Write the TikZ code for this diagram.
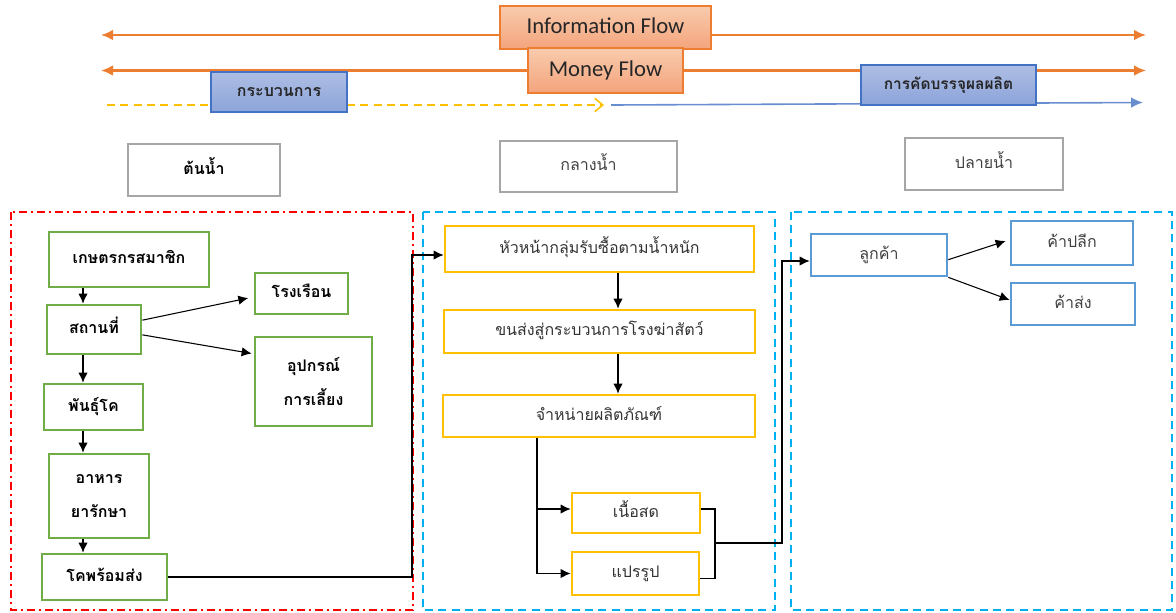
\documentclass[tikz,border=0pt]{standalone}
\usepackage{fontspec}
\setmainfont{Carlito}
\newfontfamily\thai[Script=Thai]{Loma}
\usetikzlibrary{arrows.meta,backgrounds}

\definecolor{flowor}{HTML}{ED7D31}
\definecolor{flowtop}{HTML}{F8CBAD}
\definecolor{flowbot}{HTML}{F4A47C}
\definecolor{procblue}{HTML}{4472C4}
\definecolor{proctop}{HTML}{AEBDE4}
\definecolor{procbot}{HTML}{8CA4DA}
\definecolor{farmgreen}{HTML}{70AD47}
\definecolor{midyellow}{HTML}{FFC000}
\definecolor{endblue}{HTML}{5B9BD5}
\definecolor{zonecyan}{HTML}{00B0F0}
\definecolor{stagegray}{HTML}{A6A6A6}
\definecolor{flowyellow}{HTML}{FFC000}

\tikzset{
  % box from its left, top, right and bottom edge (in px)
  span/.style args={#1,#2,#3,#4}{at={({(#1+#3)/2},{(#2+#4)/2})},
    minimum width={(#3-#1)*0.75pt}, minimum height={(#4-#2)*0.75pt}},
  box/.style={draw, inner sep=0pt, text height=8pt, text depth=2pt,
    font=\thai\fontsize{12}{25}\selectfont},
  twoline/.style={align=center, text height=, text depth=},
  flowbox/.style={box, draw=flowor, top color=flowtop, bottom color=flowbot,
    line width=1pt, font=\fontsize{17}{19}\selectfont, text=black!85,
    text height=12pt, text depth=3pt},
  procbox/.style={box, draw=procblue, top color=proctop, bottom color=procbot,
    line width=1pt, font=\thai\bfseries\fontsize{12}{14}\selectfont, text=black!85},
  stagebox/.style={box, draw=stagegray, line width=2pt},
  farmbox/.style={box, draw=farmgreen, line width=2pt,
    font=\thai\bfseries\fontsize{12}{25}\selectfont},
  midbox/.style={box, draw=midyellow, line width=2pt, text=black!80},
  sellbox/.style={box, draw=endblue, line width=2pt, text=black!75},
  arr/.style={-{Latex[length=7.5pt,width=7pt]}, line width=0.8pt},
  link/.style={line width=0.8pt},
  flowline/.style={flowor, line width=1.6pt, -{Latex[length=9pt,width=8pt]}},
  zone/.style={line width=1.6pt},
}

\begin{document}
\begin{tikzpicture}[x=0.75pt, y=-0.75pt]
\useasboundingbox (0,0) rectangle (1176,612);

% ---------- flow labels along the top ----------
\node[flowbox, span={500,6,711,49}] (info) {Information Flow};
\node[flowbox, span={528,48,683,93}] (money) {Money Flow};
\node[procbox, span={211,72,347,112}] (process) {กระบวนการ};
\node[procbox, span={861,65,1036,105}, font=\thai\bfseries\fontsize{11.6}{13}\selectfont] (packing) {การคัดบรรจุผลผลิต};

\coordinate (infoL) at (101,35);
\coordinate (infoR) at (1146,35);
\coordinate (moneyL) at (101,70.5);
\coordinate (moneyR) at (1146,70.5);
\coordinate (goodsA) at (107,105);
\coordinate (goodsB) at (604,105);
\coordinate (goodsC) at (611,105);
\coordinate (goodsD) at (1143,102.5);

\begin{scope}[on background layer]
  \draw[flowline] (info.west |- infoL) -- (infoL);
  \draw[flowline] (info.east |- infoR) -- (infoR);
  \draw[flowline] (money.west) -- (moneyL);
  \draw[flowline] (money.east) -- (moneyR);
  \draw[flowyellow, line width=1.2pt, dash pattern=on 6pt off 4pt,
        -{Straight Barb[length=6pt,width=10pt]}] (goodsA) -- (goodsB);
  \draw[procblue!80, line width=1.2pt, -{Latex[length=9pt,width=8pt]}] (goodsC) -- (goodsD);
\end{scope}

% ---------- stage headers ----------
\node[stagebox, span={128,144,280,196}, font=\thai\bfseries\fontsize{12}{14}\selectfont] (up) {ต้นน้ำ};
\node[stagebox, span={500,141,677,192}, text=black!75] (mid) {กลางน้ำ};
\node[stagebox, span={905,138,1063,190}, text=black!75] (down) {ปลายน้ำ};

% ---------- zone frames ----------
\draw[zone, red, dash pattern=on 6pt off 3pt on 1.5pt off 3pt] (11,212) rectangle (413,610);
\draw[zone, zonecyan, dash pattern=on 6pt off 4pt] (423,212) rectangle (775,610);
\draw[zone, zonecyan, dash pattern=on 6pt off 4pt] (791,212) rectangle (1172,610);

% ---------- upstream: farm ----------
\node[farmbox, span={49,232,209,287}] (farmer) {เกษตรกรสมาชิก};
\node[farmbox, span={47,305,141,354}] (site) {สถานที่};
\node[farmbox, span={255,273,348,314}] (barn) {โรงเรือน};
\node[farmbox, twoline, span={255,337,372,426}] (equip) {อุปกรณ์\\การเลี้ยง};
\node[farmbox, span={44,384,143,430}] (breed) {พันธุ์โค};
\node[farmbox, twoline, span={49,454,149,538}] (feed) {อาหาร\\ยารักษา};
\node[farmbox, span={42,554,167,600}] (ready) {โคพร้อมส่ง};

\coordinate (lc) at (83,0);
\draw[arr] (farmer.south -| lc) -- (site.north -| lc);
\draw[arr] (site.south -| lc) -- (breed.north -| lc);
\draw[arr] (breed.south -| lc) -- (feed.north -| lc);
\draw[arr] (feed.south -| lc) -- (ready.north -| lc);
\draw[arr] ([yshift=7pt]site.east) -- ([xshift=-4pt,yshift=-3.4pt]barn.west);
\draw[arr] ([yshift=-4pt]site.east) -- ([xshift=-1.5pt,yshift=21pt]equip.west);

% ---------- midstream: slaughter and sale ----------
\node[midbox, span={445,226,754,272}] (buyer) {หัวหน้ากลุ่มรับซื้อตามน้ำหนัก};
\node[midbox, span={444,310,755,353}] (haul) {ขนส่งสู่กระบวนการโรงฆ่าสัตว์};
\node[midbox, span={443,395,755,437}] (sale) {จำหน่ายผลิตภัณฑ์};
\node[midbox, span={572,493,700,533}] (fresh) {เนื้อสด};
\node[midbox, span={572,552,699,595}] (processed) {แปรรูป};

\coordinate (bendL) at (412,0);
\draw[arr] (ready.east) -- (ready.east -| bendL) |- ([yshift=-4.5pt]buyer.west);

\coordinate (mc) at (618,0);
\draw[arr] (buyer.south -| mc) -- (haul.north -| mc);
\draw[arr] (haul.south -| mc) -- (sale.north -| mc);

\coordinate (bc) at (537,0);
\draw[arr] (sale.south -| bc) |- ([yshift=3pt]fresh.west);
\draw[arr] (sale.south -| bc) |- (processed.west);

\coordinate (mj) at (715,0);
\coordinate (merge) at (715,543);
\coordinate (bendR) at (782,0);
\draw[link] ([yshift=3pt]fresh.east) -- ([yshift=3pt]fresh.east -| mj) |- ([yshift=-3.4pt]processed.east);

% ---------- downstream: customers ----------
\node[sellbox, span={811,234,947,276}] (cust) {ลูกค้า};
\node[sellbox, span={1011,221,1133,265}] (retail) {ค้าปลีก};
\node[sellbox, span={1011,283,1135,325}] (whole) {ค้าส่ง};

\draw[arr] (merge) -- (merge -| bendR) |- ([yshift=-4.5pt]cust.west);
\draw[arr] ([yshift=-3.5pt]cust.east) -- ([xshift=-3pt,yshift=1.5pt]retail.west);
\draw[arr] (cust.south east) -- ([yshift=3pt]whole.west);
\end{tikzpicture}
\end{document}
